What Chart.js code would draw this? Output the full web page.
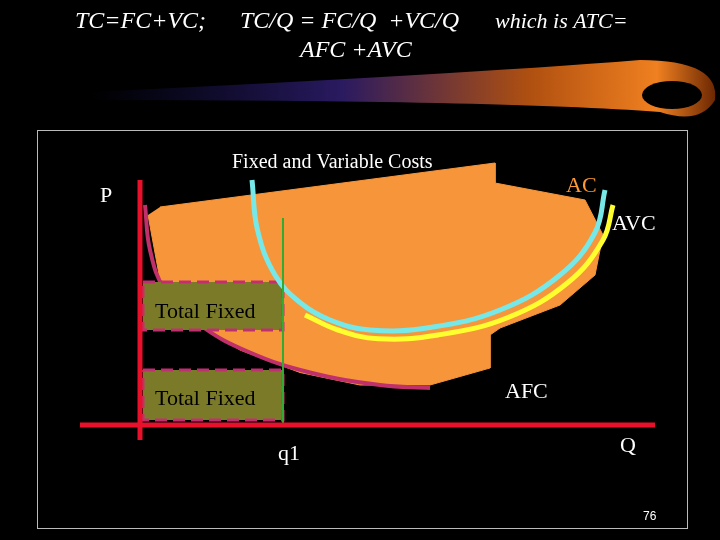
<!DOCTYPE html>
<html><head><meta charset="utf-8">
<script src="https://cdn.jsdelivr.net/npm/chart.js@4"></script>
<style>html,body{margin:0;background:#000;}#wrap{width:720px;height:540px;}</style>
</head><body><div id="wrap"><canvas id="c" width="720" height="540"></canvas></div>
<script>
// Quantity (Q) and cost (C) units
const fillQ = [4,71,71,89,92.6,91,84,72,70,70,58,44,32,20,10,4,1.6];
const fillC = [87.2,104.8,96.8,90,76,60,48,38.8,36,22.8,16,16,21,30,42.8,58,84];
const acQ = [22.4,23.5,27,32,38,46,58,72,84,91,93];
const acC = [98,78,60,49,42,38,39,46,60,77,94];
const avcQ = [33,39.6,47.6,59.6,73.6,85.6,92.6,94.6];
const avcC = [44,38,34.5,36,43,57,74,88];
const afcQ = [1,2,5,12,22,34,48,58];
const afcC = [88,70,54,40,29,21,16,14.8];
const tf1Q = [0.6,28.6,28.6,0.6,0.6], tf1C = [57.2,57.2,38,38,57.2];
const tf2Q = [0.6,28.6,28.6,0.6,0.6], tf2C = [22,22,2,2,22];
const q1 = 28.6, q1Top = 82.8;
const pAxisQ = [0,0], pAxisC = [98,-6];
const qAxisQ = [-12,103], qAxisC = [0,0];

const pts = (xs, ys) => xs.map((x,i)=>({x, y: ys[i]}));
const base = {showLine:true, pointRadius:0, tension:0};

const texts = [
 {t:'TC=FC+VC;', x:75, y:28, f:'italic 24px "Liberation Serif"', c:'#fff'},
 {t:'TC/Q = FC/Q  +VC/Q', x:240, y:28, f:'italic 24px "Liberation Serif"', c:'#fff'},
 {t:'which is ATC=', x:495, y:28, f:'italic 22px "Liberation Serif"', c:'#fff'},
 {t:'AFC +AVC', x:300, y:57, f:'italic 24px "Liberation Serif"', c:'#fff'},
 {t:'Fixed and Variable Costs', x:232, y:168, f:'20px "Liberation Serif"', c:'#fff'},
 {t:'P', x:100, y:202, f:'22px "Liberation Serif"', c:'#fff'},
 {t:'AC', x:566, y:192, f:'22px "Liberation Serif"', c:'#ff9933'},
 {t:'AVC', x:612, y:230, f:'22px "Liberation Serif"', c:'#fff'},
 {t:'Total Fixed', x:155, y:318, f:'22px "Liberation Serif"', c:'#000'},
 {t:'Total Fixed', x:155, y:405, f:'22px "Liberation Serif"', c:'#000'},
 {t:'AFC', x:505, y:398, f:'22px "Liberation Serif"', c:'#fff'},
 {t:'q1', x:278, y:460, f:'22px "Liberation Serif"', c:'#fff'},
 {t:'Q', x:620, y:452, f:'22px "Liberation Serif"', c:'#fff'},
 {t:'76', x:643, y:520, f:'12px "Liberation Sans"', c:'#fff'}
];

const deco = {
 id:'deco',
 beforeDraw(ch){
  const ctx = ch.ctx; ctx.save();
  ctx.fillStyle='#000'; ctx.fillRect(0,0,720,540);
  const g = ctx.createLinearGradient(90,0,720,0);
  g.addColorStop(0,'rgba(20,20,80,0.0)'); g.addColorStop(0.4,'#2a1a60');
  g.addColorStop(0.7,'#b05010'); g.addColorStop(0.9,'#f08020'); g.addColorStop(1,'#602000');
  ctx.fillStyle=g;
  ctx.beginPath(); ctx.moveTo(90,92);
  ctx.quadraticCurveTo(450,75,640,60);
  ctx.quadraticCurveTo(720,60,715,100);
  ctx.quadraticCurveTo(700,125,660,112);
  ctx.quadraticCurveTo(500,100,90,100); ctx.closePath(); ctx.fill();
  ctx.fillStyle='#000';
  ctx.beginPath(); ctx.ellipse(672,95,30,14,0,0,Math.PI*2); ctx.fill();
  ctx.strokeStyle='#bbb'; ctx.lineWidth=1; ctx.strokeRect(37.5,130.5,650,398);
  ctx.restore();
 },
 afterDraw(ch){
  const ctx=ch.ctx; ctx.save(); ctx.textBaseline='alphabetic';
  texts.forEach(o=>{ctx.font=o.f; ctx.fillStyle=o.c; ctx.fillText(o.t,o.x,o.y);});
  ctx.restore();
 }
};

new Chart(document.getElementById('c'), {
 type:'scatter',
 data:{datasets:[
  {...base, data:pts(qAxisQ,qAxisC), borderColor:'#e8102a', borderWidth:5, order:1},
  {...base, data:pts(pAxisQ,pAxisC), borderColor:'#e8102a', borderWidth:5, order:1},
  {...base, data:[{x:q1,y:q1Top},{x:q1,y:0}], borderColor:'#33aa33', borderWidth:2, order:2},
  {...base, data:pts(acQ,acC), borderColor:'#77e8e8', borderWidth:5, tension:0.4, order:3},
  {...base, data:pts(avcQ,avcC), borderColor:'#ffff30', borderWidth:5, tension:0.4, order:4},
  {...base, data:pts(tf1Q,tf1C), borderColor:'#c03070', borderWidth:3, borderDash:[12,6], backgroundColor:'#7a7a28', fill:'shape', order:5},
  {...base, data:pts(tf2Q,tf2C), borderColor:'#c03070', borderWidth:3, borderDash:[12,6], backgroundColor:'#7a7a28', fill:'shape', order:5},
  {...base, data:pts(afcQ,afcC), borderColor:'#c0306a', borderWidth:4, tension:0.4, order:6},
  {...base, data:pts(fillQ,fillC), borderColor:'#f7953a', borderWidth:1, backgroundColor:'#f7953a', fill:'shape', order:7}
 ]},
 options:{
  responsive:false, animation:false, devicePixelRatio:1,
  layout:{padding:0},
  plugins:{legend:{display:false}, tooltip:{enabled:false}},
  scales:{
   x:{type:'linear', min:-28, max:116, display:false},
   y:{type:'linear', min:-46, max:170, display:false}
  }
 },
 plugins:[deco]
});
</script></body></html>
